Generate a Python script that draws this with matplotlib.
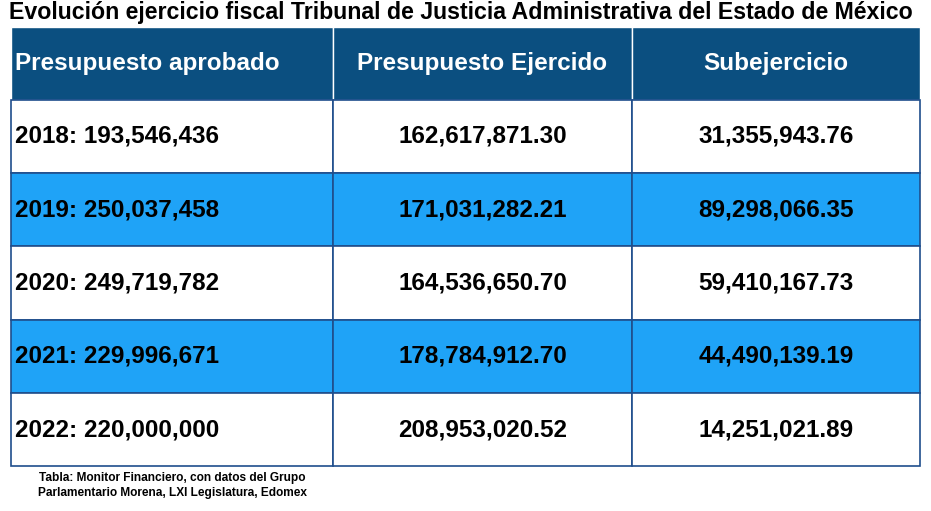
import matplotlib.pyplot as plt
from matplotlib.patches import Rectangle
from matplotlib import font_manager

title = 'Evolución ejercicio fiscal Tribunal de Justicia Administrativa del Estado de México'
headers = ['Presupuesto aprobado', 'Presupuesto Ejercido', 'Subejercicio']
years = ['2018', '2019', '2020', '2021', '2022']
aprobado = ['193,546,436', '250,037,458', '249,719,782', '229,996,671', '220,000,000']
ejercido = ['162,617,871.30', '171,031,282.21', '164,536,650.70', '178,784,912.70', '208,953,020.52']
subejercicio = ['31,355,943.76', '89,298,066.35', '59,410,167.73', '44,490,139.19', '14,251,021.89']
source = 'Tabla: Monitor Financiero, con datos del Grupo\nParlamentario Morena, LXI Legislatura, Edomex'

W, H = 931, 511
col_x = [11, 333, 632, 920]
row_y = [27, 100, 173, 246, 320, 393, 466]
header_bg = '#0b4f80'
stripe_bg = '#1fa3f7'
edge = '#1f4e8c'

names = {f.name for f in font_manager.fontManager.ttflist}
narrow = 'Liberation Sans Narrow' in names
plt.rcParams['font.family'] = ['Liberation Sans', 'DejaVu Sans']

fig = plt.figure(figsize=(W / 100, H / 100), dpi=100)
ax = fig.add_axes([0, 0, 1, 1])
ax.set_xlim(0, W)
ax.set_ylim(H, 0)
ax.axis('off')

# no condensed face here, so size the regular one to the same width
if narrow:
    ax.text(461, 13, title, ha='center', va='center', fontsize=15.5,
            fontweight='bold', family='Liberation Sans Narrow')
else:
    ax.text(461, 13, title, ha='center', va='center', fontsize=16.7,
            fontweight='bold')

# header row
for c in range(3):
    x0, x1 = col_x[c], col_x[c + 1]
    ax.add_patch(Rectangle((x0, row_y[0]), x1 - x0, row_y[1] - row_y[0],
                           facecolor=header_bg, edgecolor='white', lw=1))
    yc = (row_y[0] + row_y[1]) / 2
    if c == 0:
        ax.text(x0 + 4, yc, headers[c], ha='left', va='center', color='white',
                fontsize=17.5, fontweight='bold')
    else:
        ax.text((x0 + x1) / 2, yc, headers[c], ha='center', va='center',
                color='white', fontsize=17.5, fontweight='bold')

# body rows
for r in range(len(years)):
    y0, y1 = row_y[r + 1], row_y[r + 2]
    yc = (y0 + y1) / 2
    bg = stripe_bg if r % 2 == 1 else 'white'
    for c in range(3):
        x0, x1 = col_x[c], col_x[c + 1]
        ax.add_patch(Rectangle((x0, y0), x1 - x0, y1 - y0, facecolor=bg,
                               edgecolor=edge, lw=1.2))
    ax.text(col_x[0] + 4, yc, f'{years[r]}: {aprobado[r]}', ha='left', va='center',
            fontsize=17.5, fontweight='bold')
    ax.text((col_x[1] + col_x[2]) / 2, yc, ejercido[r], ha='center', va='center',
            fontsize=17.5, fontweight='bold')
    ax.text((col_x[2] + col_x[3]) / 2, yc, subejercicio[r], ha='center', va='center',
            fontsize=17.5, fontweight='bold')

ax.text(172, 485.5, source, ha='center', va='center', fontsize=8.6,
        fontweight='bold', linespacing=1.35)

fig.savefig('out.png', dpi=100)
